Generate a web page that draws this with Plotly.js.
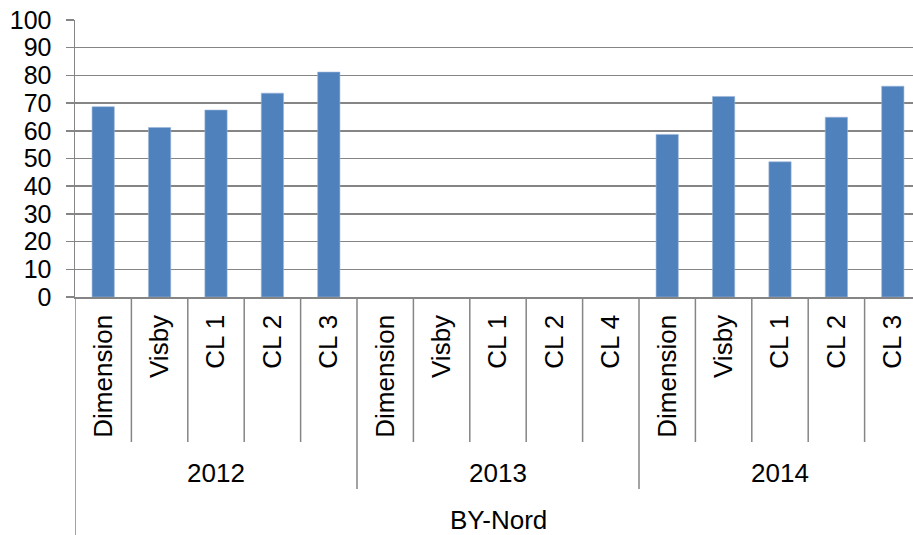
<!DOCTYPE html>
<html>
<head>
<meta charset="utf-8">
<script src="https://cdn.plot.ly/plotly-3.0.1.min.js"></script>
<style>
html,body{margin:0;padding:0;overflow:hidden;background:#fff;}
#chart{width:925px;height:535px;}
</style>
</head>
<body>
<div id="chart"></div>
<script>
const groupLabel = 'BY-Nord';
const years = ['2012', '2013', '2014'];
const subLabels2012 = ['Dimension', 'Visby', 'CL 1', 'CL 2', 'CL 3'];
const subLabels2013 = ['Dimension', 'Visby', 'CL 1', 'CL 2', 'CL 4'];
const subLabels2014 = ['Dimension', 'Visby', 'CL 1', 'CL 2', 'CL 3'];
const values2012 = [68.7, 61.2, 67.5, 73.6, 81.2];
const values2013 = [null, null, null, null, null];
const values2014 = [58.7, 72.4, 48.8, 64.9, 76.1];
const yTicks = [0, 10, 20, 30, 40, 50, 60, 70, 80, 90, 100];

const subGroups = [subLabels2012, subLabels2013, subLabels2014];
const valGroups = [values2012, values2013, values2014];

const xs = [], ys = [], tt = [];
const groupStart = [];
let idx = 0;
subGroups.forEach((g, gi) => {
  groupStart.push(idx);
  g.forEach((lab, j) => {
    xs.push(idx); ys.push(valGroups[gi][j]); tt.push(lab); idx++;
  });
});
const n = idx;

const lineCol = '#858585';
const font = {family: '"Liberation Sans", Arial, sans-serif', color: '#000'};

const plotTop = 20, plotBottom = 297, H = 535;
const ph = plotBottom - plotTop;
const py = px => -(px - plotBottom) / ph;

const shapes = [];
for (let i = 0; i <= n; i++) {
  const isGroupEdge = groupStart.includes(i) || i === n;
  let bottom = isGroupEdge ? py(489) : py(442);
  if (i === 0 || i === n) bottom = py(H + 5);
  shapes.push({type: 'line', xref: 'x', yref: 'paper', x0: i - 0.5, x1: i - 0.5,
    y0: 0, y1: bottom, line: {color: lineCol, width: 1.5}});
}

const annotations = [];
subGroups.forEach((g, gi) => {
  const cx = groupStart[gi] + (g.length - 1) / 2;
  annotations.push({xref: 'x', yref: 'paper', x: cx, y: py(473), text: years[gi],
    showarrow: false, xanchor: 'center', yanchor: 'middle', font: Object.assign({size: 26}, font)});
});
annotations.push({xref: 'x', yref: 'paper', x: (n - 1) / 2, y: py(520), text: groupLabel,
  showarrow: false, xanchor: 'center', yanchor: 'middle', font: Object.assign({size: 26}, font)});

const trace = {
  type: 'bar', x: xs, y: ys,
  marker: {color: '#4F81BD', line: {color: '#9db7d9', width: 0.6}},
  hoverinfo: 'skip'
};

const layout = {
  width: 925, height: 535,
  margin: {l: 75, r: 4, t: plotTop, b: H - plotBottom, pad: 0},
  paper_bgcolor: '#fff', plot_bgcolor: '#fff',
  showlegend: false,
  bargap: 0.605,
  font: Object.assign({size: 25}, font),
  xaxis: {
    range: [-0.5, n - 0.5], tickmode: 'array', tickvals: xs, ticktext: tt,
    tickangle: -90, ticks: '', showgrid: false, zeroline: false,
    showline: true, linecolor: lineCol, linewidth: 1.5,
    tickfont: Object.assign({size: 26}, font), ticklabelstandoff: 6
  },
  yaxis: {
    range: [0, 100], tickmode: 'array', tickvals: yTicks,
    ticks: 'outside', ticklen: 8, tickcolor: lineCol, tickwidth: 1.5,
    showgrid: true, gridcolor: lineCol, gridwidth: 1.5, zeroline: false,
    showline: true, linecolor: lineCol, linewidth: 1.5,
    tickfont: Object.assign({size: 25}, font), ticklabelstandoff: 9
  },
  shapes: shapes,
  annotations: annotations
};

Plotly.newPlot('chart', [trace], layout, {displayModeBar: false, staticPlot: true});
</script>
</body>
</html>
